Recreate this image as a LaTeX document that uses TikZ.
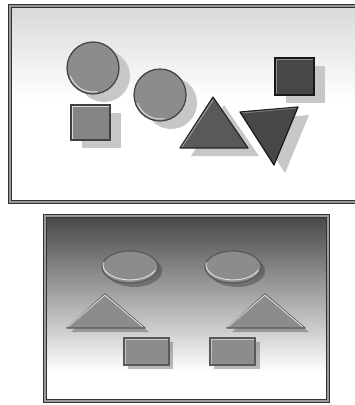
\documentclass[tikz,border=0pt]{standalone}
\begin{document}
\begin{tikzpicture}
  [x=1pt,y=-1pt,
   frame/.style={draw=black!80,double=black!40,double distance=1.6pt,line width=1pt},
   piece/.style={draw=black!75,line width=1.2pt},
   drop/.style={fill=black!22},
   lowdrop/.style={fill=black,opacity=.25},
   shine/.style={draw=white,opacity=.7,line width=1pt}]
  \useasboundingbox (0,0) rectangle (355,405);

  % upper panel
  \fill[white] (10,6) rectangle (360,202);
  \shade[top color=black!15,bottom color=white] (10,6) rectangle (360,100);
  \draw[frame] (10,6) rectangle (360,202);

  \begin{scope}[xshift=11pt,yshift=-8pt]
    \fill[drop] (93,68) circle (26);
    \fill[drop] (160,95) circle (26);
    \fill[drop] (71,105) rectangle (110,140);
    \fill[drop] (275,58) rectangle (314,95);
    \fill[drop] (213,97) -- (248,148) -- (180,148) -- cycle;
    \fill[drop] (240,112) -- (298,107) -- (274,165) -- cycle;
  \end{scope}

  \foreach \c in {(93,68),(160,95)} {
    \draw[piece,fill=black!45] \c circle (26);
    \draw[shine] \c ++(160:24) arc (160:80:24);
  }
  \draw[piece,fill=black!48] (71,105) rectangle (110,140);
  \draw[shine] (72,139) -- (72,106) -- (109,106);
  \draw[piece,fill=black!72,draw=black!90] (275,58) rectangle (314,95);
  \draw[shine,opacity=.4] (276,94) -- (276,59) -- (313,59);
  \draw[piece,fill=black!65,draw=black!85,line join=round] (213,97) -- (248,148) -- (180,148) -- cycle;
  \draw[shine,opacity=.4] (182,147) -- (213,100);
  \draw[piece,fill=black!72,draw=black!90,line join=round] (240,112) -- (298,107) -- (274,165) -- cycle;
  \draw[shine,opacity=.3] (242,113) -- (296,108);

  % lower panel
  \fill[white] (45,216) rectangle (328,401);
  \shade[top color=black!72,middle color=black!30,bottom color=white] (45,216) rectangle (328,372);
  \draw[frame] (45,216) rectangle (328,401);

  \begin{scope}[xshift=4pt,yshift=-4pt]
    \foreach \x in {130,233}
      \fill[lowdrop] (\x,267) ellipse (28 and 16);
    \fill[lowdrop] (105,294) -- (145,328) -- (67,328) -- cycle;
    \fill[lowdrop] (265,294) -- (305,328) -- (228,328) -- cycle;
    \fill[lowdrop] (124,338) rectangle (169,365);
    \fill[lowdrop] (210,338) rectangle (256,365);
  \end{scope}

  \foreach \x in {130,233} {
    \draw[piece,fill=black!45,draw=black!65] (\x,267) ellipse (28 and 16);
    \draw[shine] (\x,267) ++(190:27) arc (190:20:27 and 15);
  }
  \foreach \x in {105,265} {
    \draw[piece,fill=black!45,draw=black!65,line join=round] (\x,294) -- ++(40,34) -- ++(-78,0) -- cycle;
    \draw[shine] (\x-37,327) -- (\x,295) -- (\x+38,327);
  }
  \foreach \x in {124,210} {
    \draw[piece,fill=black!45,draw=black!65] (\x,338) rectangle ++(45,27);
    \draw[shine,opacity=.5] (\x+1,364) -- (\x+1,339) -- (\x+44,339);
  }
\end{tikzpicture}
\end{document}
